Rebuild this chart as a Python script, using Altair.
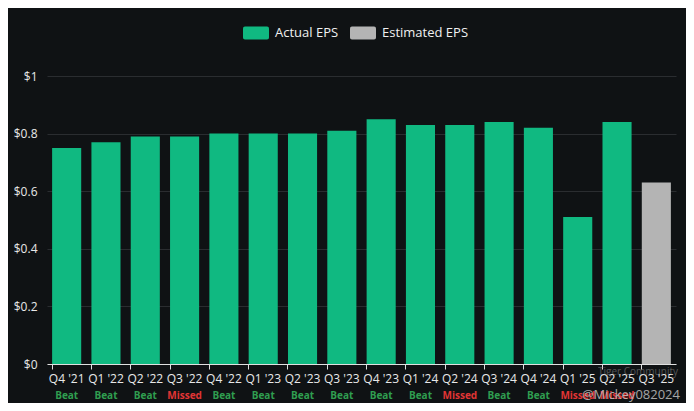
import altair as alt
import pandas as pd

quarters = ["Q4 '21", "Q1 '22", "Q2 '22", "Q3 '22", "Q4 '22", "Q1 '23", "Q2 '23", "Q3 '23",
            "Q4 '23", "Q1 '24", "Q2 '24", "Q3 '24", "Q4 '24", "Q1 '25", "Q2 '25", "Q3 '25"]
actual_eps = [0.75, 0.77, 0.79, 0.79, 0.80, 0.80, 0.80, 0.81,
              0.85, 0.83, 0.83, 0.84, 0.82, 0.51, 0.84, None]
estimated_eps = [None] * 15 + [0.63]
results = ["Beat", "Beat", "Beat", "Missed", "Beat", "Beat", "Beat", "Beat",
           "Beat", "Beat", "Missed", "Beat", "Beat", "Missed", "Missed", ""]
y_ticks = [0, 0.2, 0.4, 0.6, 0.8, 1]

GREEN = "#10b981"
GRAY = "#b4b4b4"
BG = "#0f1214"
result_colors = {"Beat": "#2f9e50", "Missed": "#e03535", "": BG}

rows = []
for q, a, e, r in zip(quarters, actual_eps, estimated_eps, results):
    if a is not None:
        rows.append({"quarter": q, "eps": a, "type": "Actual EPS"})
    if e is not None:
        rows.append({"quarter": q, "eps": e, "type": "Estimated EPS"})
bars_df = pd.DataFrame(rows)
res_df = pd.DataFrame({"quarter": quarters, "result": results,
                       "rcolor": [result_colors[r] for r in results]})

W, H = 629, 288
FONT = "Open Sans"

rounded = ("M-0.85,-0.5 H0.85 A0.15,0.15 0 0 1 1,-0.35 V0.35 A0.15,0.15 0 0 1 0.85,0.5 "
           "H-0.85 A0.15,0.15 0 0 1 -1,0.35 V-0.35 A0.15,0.15 0 0 1 -0.85,-0.5 Z")

xenc = alt.X("quarter:N", sort=quarters, title=None,
             scale=alt.Scale(paddingInner=0.26, paddingOuter=0.13),
             axis=alt.Axis(labelAngle=0, labelColor="#e8e8e8", labelFontSize=12, labelFont=FONT,
                           domainColor="#e0e0e0", tickColor="#e0e0e0", tickSize=5,
                           bandPosition=0, labelPadding=4, grid=False))

bars = alt.Chart(bars_df).mark_bar().encode(
    x=xenc,
    y=alt.Y("eps:Q", title=None, scale=alt.Scale(domain=[0, 1], nice=False),
            axis=alt.Axis(values=y_ticks, labelExpr="'$' + datum.value", labelColor="#e8e8e8",
                          labelFontSize=12, labelFont=FONT, domain=False, ticks=False,
                          gridColor="#2a2d30", labelPadding=10)),
    color=alt.Color("type:N", scale=alt.Scale(domain=["Actual EPS", "Estimated EPS"], range=[GREEN, GRAY]),
                    legend=alt.Legend(title=None, orient="none", legendX=196, legendY=-56,
                                      direction="horizontal", symbolType=rounded, symbolSize=676,
                                      symbolStrokeWidth=0, labelColor="#f0f0f0", labelFontSize=13,
                                      labelFont=FONT, columnPadding=10, symbolOpacity=1,
                                      labelOffset=6)),
)

res_text = alt.Chart(res_df).mark_text(fontSize=10, fontWeight="bold", font=FONT).encode(
    x=alt.X("quarter:N", sort=quarters),
    y=alt.value(H + 32),
    text="result:N",
    color=alt.Color("rcolor:N", scale=None),
)

wm_df = pd.DataFrame({"t1": ["@Mickey082024"], "t2": ["Tiger Community"]})
wm1 = alt.Chart(wm_df).mark_text(fontSize=13, color="#c0c0c0", opacity=0.85, align="right", font=FONT).encode(
    x=alt.value(W + 4), y=alt.value(H + 31), text="t1:N")
wm2 = alt.Chart(wm_df).mark_text(fontSize=10, color="#9a9a9a", opacity=0.5, align="right", font=FONT).encode(
    x=alt.value(W + 2), y=alt.value(H + 8), text="t2:N")

chart = alt.layer(bars, res_text, wm1, wm2).properties(
    width=W, height=H, background=BG,
    padding={"left": 39, "top": 68, "right": 10, "bottom": 39},
    autosize=alt.AutoSizeParams(type="none"),
).configure_view(stroke=None).configure_axis(labelFont=FONT)

chart.save("out.html", embed_options={"renderer": "svg", "actions": False})
